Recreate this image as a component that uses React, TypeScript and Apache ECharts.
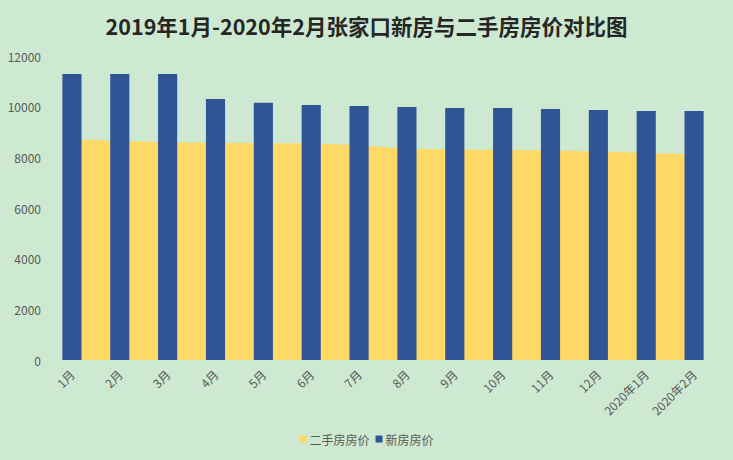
import React, { useEffect, useRef } from "react";
import * as echarts from "echarts";

const categories = ["1月", "2月", "3月", "4月", "5月", "6月", "7月", "8月", "9月", "10月", "11月", "12月", "2020年1月", "2020年2月"];
const secondHandPrices = [8700, 8640, 8600, 8580, 8560, 8560, 8480, 8340, 8310, 8290, 8270, 8230, 8170, 8120];
const newHousePrices = [11290, 11290, 11290, 10300, 10150, 10070, 10030, 9990, 9950, 9950, 9910, 9870, 9830, 9830];
const yTicks = { min: 0, max: 12000, interval: 2000 };

const FONT = "'Noto Sans CJK SC', 'Noto Sans', sans-serif";

export default function App() {
  const ref = useRef<HTMLDivElement>(null);
  useEffect(() => {
    document.body.style.margin = "0";
    if (!ref.current) return;
    const chart = echarts.init(ref.current, undefined, { renderer: "svg" });
    chart.setOption({
      animation: false,
      backgroundColor: "#cde9d1",
      textStyle: { fontFamily: FONT },
      title: {
        text: "2019年1月-2020年2月张家口新房与二手房房价对比图",
        left: "center",
        top: 10,
        textStyle: { fontFamily: FONT, fontSize: 21.5, fontWeight: "bold", color: "#262626" },
      },
      legend: {
        data: ["二手房房价", "新房房价"],
        bottom: 10,
        left: "center",
        icon: "rect",
        itemWidth: 7,
        itemHeight: 7,
        itemGap: 6,
        textStyle: { fontFamily: FONT, fontSize: 12, color: "#595959", padding: [0, 0, 0, -2] },
      },
      grid: { left: 48, right: 15, top: 56, bottom: 100, containLabel: false },
      xAxis: {
        type: "category",
        data: categories,
        boundaryGap: true,
        axisLine: { show: false },
        axisTick: { show: false },
        axisLabel: { rotate: 45, fontSize: 12, color: "#595959", margin: 12, fontFamily: FONT },
      },
      yAxis: {
        type: "value",
        min: yTicks.min,
        max: yTicks.max,
        interval: yTicks.interval,
        splitLine: { show: false },
        axisLine: { show: false },
        axisTick: { show: false },
        axisLabel: { fontSize: 12, color: "#595959", margin: 7, fontFamily: FONT, formatter: (v: number) => String(v) },
      },
      series: [
        {
          name: "二手房房价",
          type: "line",
          data: secondHandPrices,
          symbol: "none",
          lineStyle: { width: 0 },
          itemStyle: { color: "#ffd966" },
          areaStyle: { color: "#ffd966", opacity: 1 },
          z: 1,
        },
        {
          name: "新房房价",
          type: "bar",
          data: newHousePrices,
          barWidth: "40%",
          itemStyle: { color: "#2f5597" },
          z: 3,
        },
      ],
    });
    return () => chart.dispose();
  }, []);
  return <div ref={ref} style={{ width: 733, height: 460 }} />;
}
